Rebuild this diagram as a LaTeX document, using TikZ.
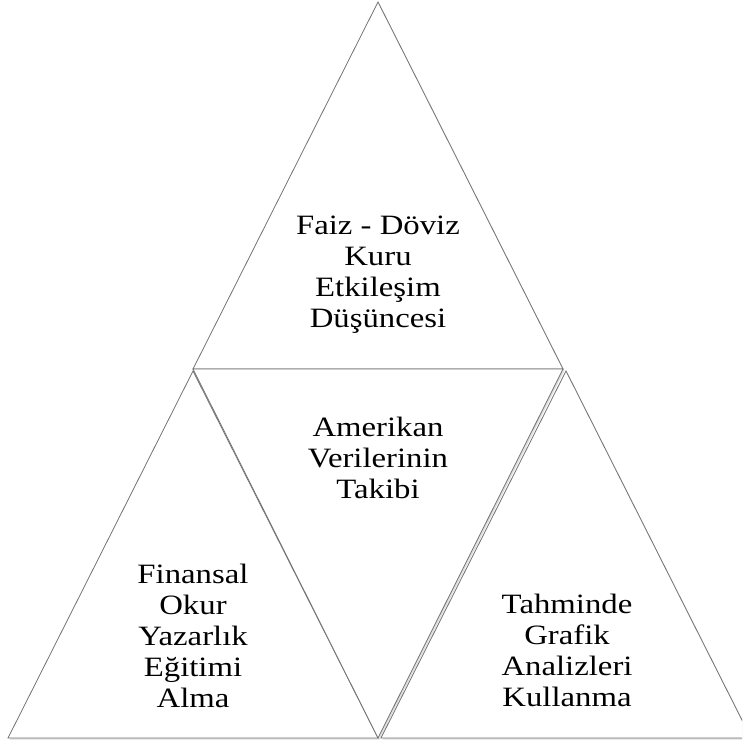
\documentclass[tikz,border=0pt]{standalone}
\usepackage{fontspec}
\setmainfont{Liberation Serif}[FakeStretch=1.17]
\usetikzlibrary{shadows}

\begin{document}
\begin{tikzpicture}[
  x=1pt, y=-1pt,
  tri/.style={draw=black!55, line width=.8pt, fill=white, line join=miter,
              drop shadow={opacity=.25, shadow xshift=1.5pt, shadow yshift=-1.5pt}},
  label/.style={align=center, font=\fontsize{28}{31}\selectfont, inner sep=0pt},
]
  \useasboundingbox (0,0) rectangle (742,746);
  \begin{scope}
    \clip (0,0) rectangle (742,746);
    % corners
    \coordinate (top) at (378,2);
    \coordinate (tl) at (193,369);
    \coordinate (tr) at (563,369);
    \coordinate (mid) at (378,738);

    \draw[tri] (top) -- (tr) -- (tl) -- cycle;
    \draw[tri] (193,371) -- (378,738) -- (8,738) -- cycle;
    \draw[tri] (566,371) -- (751,738) -- (381,738) -- cycle;
    \draw[tri] (tl) -- (tr) -- (mid) -- cycle;
  \end{scope}

  \node[label] (faiz) at (378,275) {Faiz - Döviz\\Kuru\\Etkileşim\\Düşüncesi};
  \node[label] (abd) at (378,458) {Amerikan\\Verilerinin\\Takibi};
  \node[label] (egitim) at (193,636) {Finansal\\Okur\\Yazarlık\\Eğitimi\\Alma};
  \node[label] (grafik) at (567,650) {Tahminde\\Grafik\\Analizleri\\Kullanma};
\end{tikzpicture}
\end{document}
